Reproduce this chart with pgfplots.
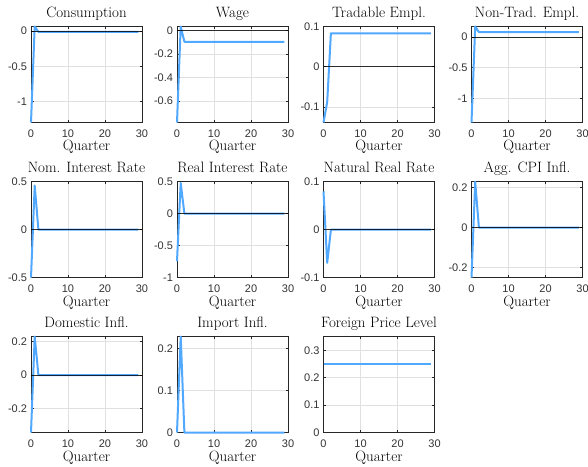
\documentclass[border=0pt]{standalone}
\usepackage{fontspec}
\usepackage{pgfplots}
\pgfplotsset{compat=1.18}
\newfontfamily\tickfont{Liberation Sans}
\definecolor{lblue}{RGB}{80,168,255}
\definecolor{axgray}{RGB}{38,38,38}
\pgfplotsset{irf/.style={
  scale only axis, width=111pt, height=96pt, anchor=south west,
  xmin=0, xmax=30, xtick={0,10,20,30}, xticklabels={0,10,20,30},
  grid=major, major grid style={black!12, line width=0.5pt},
  axis line style={axgray, line width=0.6pt},
  tick style={axgray, line width=0.5pt}, major tick length=2.5pt,
  tick align=inside, clip=false,
  ticklabel style={font=\tickfont\fontsize{11}{13}\selectfont, text=black!80},
  xticklabel shift=4pt, yticklabel shift=0.5pt,
  every axis title shift=0pt,
  title style={font=\fontsize{15}{18}\selectfont, at={(axis description cs:0.5,1)}, anchor=base, yshift=9pt},
  xlabel={Quarter},
  xlabel style={font=\fontsize{15}{18}\selectfont, at={(axis description cs:0.5,0)}, anchor=base, yshift=-28.5pt},
  every axis plot/.append style={line join=round},
}}
\tikzset{blue line/.style={lblue, line width=2pt}, zero line/.style={black, line width=0.9pt, opacity=0.8}}
\begin{document}
\begin{tikzpicture}
\useasboundingbox (0,0) rectangle (588pt,466pt);
% Row 1
\begin{axis}[irf, at={(31pt,343.5pt)}, title={Consumption}, ymin=-1.3, ymax=0.067,
  ytick={-1,-0.5,0}, yticklabels={-1,-0.5,0}]
\addplot[blue line] coordinates {(0,-1.3) (1,0.067) (2,-0.01) (29,-0.01)};
\addplot[zero line] coordinates {(0,0) (30,0)};
\end{axis}
\begin{axis}[irf, at={(177pt,343.5pt)}, title={Wage}, ymin=-0.783, ymax=0.033,
  ytick={-0.6,-0.4,-0.2,0}, yticklabels={-0.6,-0.4,-0.2,0}]
\addplot[blue line] coordinates {(0,-0.783) (1,0.033) (2,-0.097) (29,-0.097)};
\addplot[zero line] coordinates {(0,0) (30,0)};
\end{axis}
\begin{axis}[irf, at={(323.5pt,343.5pt)}, title={Tradable Empl.}, ymin=-0.139, ymax=0.1,
  ytick={-0.1,0,0.1}, yticklabels={-0.1,0,0.1}]
\addplot[blue line] coordinates {(0,-0.139) (1,-0.088) (2,0.083) (29,0.083)};
\addplot[zero line] coordinates {(0,0) (30,0)};
\end{axis}
\begin{axis}[irf, at={(471.5pt,343.5pt)}, title={Non-Trad. Empl.}, ymin=-1.395, ymax=0.173,
  ytick={-1,-0.5,0}, yticklabels={-1,-0.5,0}]
\addplot[blue line] coordinates {(0,-1.395) (1,0.173) (2,0.081) (29,0.081)};
\addplot[zero line] coordinates {(0,0) (30,0)};
\end{axis}
% Row 2
\begin{axis}[irf, at={(31pt,188.3pt)}, title={Nom. Interest Rate}, ymin=-0.5, ymax=0.5,
  ytick={-0.5,0,0.5}, yticklabels={-0.5,0,0.5}]
\addplot[blue line] coordinates {(0,-0.5) (1,0.46) (2,0) (29,0)};
\addplot[zero line] coordinates {(0,0) (30,0)};
\end{axis}
\begin{axis}[irf, at={(177pt,188.3pt)}, title={Real Interest Rate}, ymin=-1, ymax=0.5,
  ytick={-1,-0.5,0,0.5}, yticklabels={-1,-0.5,0,0.5}]
\addplot[blue line] coordinates {(0,-0.74) (1,0.48) (2,0) (29,0)};
\addplot[zero line] coordinates {(0,0) (30,0)};
\end{axis}
\begin{axis}[irf, at={(323.5pt,188.3pt)}, title={Natural Real Rate}, ymin=-0.1, ymax=0.1,
  ytick={-0.1,0,0.1}, yticklabels={-0.1,0,0.1}]
\addplot[blue line] coordinates {(0,0.08) (1,-0.069) (2,0) (29,0)};
\addplot[zero line] coordinates {(0,0) (30,0)};
\end{axis}
\begin{axis}[irf, at={(471.5pt,188.3pt)}, title={Agg. CPI Infl.}, ymin=-0.25, ymax=0.229,
  ytick={-0.2,0,0.2}, yticklabels={-0.2,0,0.2}]
\addplot[blue line] coordinates {(0,-0.25) (1,0.229) (2,0) (29,0)};
\addplot[zero line] coordinates {(0,0) (30,0)};
\end{axis}
% Row 3
\begin{axis}[irf, at={(31pt,33.5pt)}, title={Domestic Infl.}, ymin=-0.343, ymax=0.23,
  ytick={-0.2,0,0.2}, yticklabels={-0.2,0,0.2}]
\addplot[blue line] coordinates {(0,-0.343) (1,0.23) (2,0) (29,0)};
\addplot[zero line] coordinates {(0,0) (30,0)};
\end{axis}
\begin{axis}[irf, at={(177pt,33.5pt)}, title={Import Infl.}, ymin=0, ymax=0.228,
  ytick={0,0.1,0.2}, yticklabels={0,0.1,0.2}]
\addplot[blue line] coordinates {(0,0) (1,0.228) (2,0) (29,0)};
\end{axis}
\begin{axis}[irf, at={(323.5pt,33.5pt)}, title={Foreign Price Level}, ymin=0, ymax=0.35,
  ytick={0,0.1,0.2,0.3}, yticklabels={0,0.1,0.2,0.3}]
\addplot[blue line] coordinates {(0,0.25) (29,0.25)};
\end{axis}
\end{tikzpicture}
\end{document}
